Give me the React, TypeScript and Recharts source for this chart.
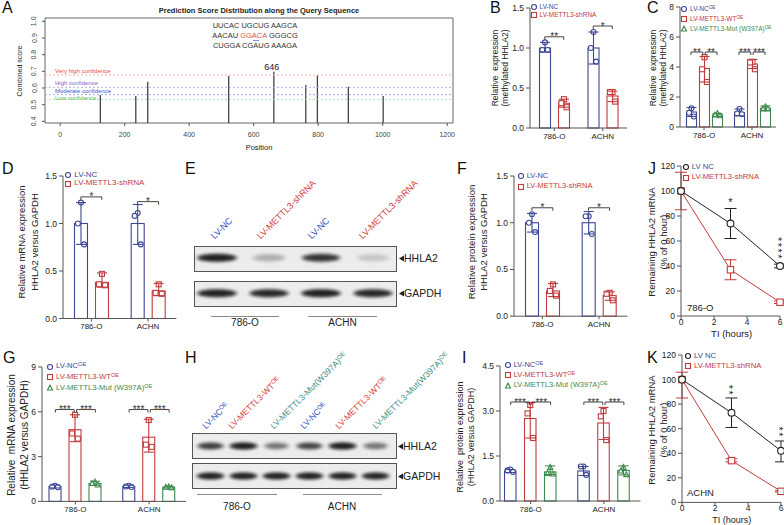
import React from 'react'
import {
  Bar,
  ComposedChart,
  ErrorBar,
  Line,
  ReferenceArea,
  ReferenceLine,
  Scatter,
  ScatterChart,
  XAxis,
  YAxis
} from 'recharts'

const FONT = '"Liberation Sans", Arial, Helvetica, sans-serif'
const INK = '#222'
const AXIS = '#555'
const NC_BLUE = '#3d4795'
const SH_RED = '#c23a3c'
const MUT_GREEN = '#3e8a4e'
const LANE_BLUE = '#2f4dbf'
const LANE_RED = '#d23a36'
const LANE_TEAL = '#3a8c84'

// A: SRAMP prediction along HHLA2
const sitePositions = [125, 235, 272, 523, 663, 762, 798, 894, 1002]
const siteScores = [0.558, 0.552, 0.638, 0.672, 0.698, 0.618, 0.676, 0.608, 0.552]
const confidenceNames = ['Very high confidence', 'High confidence', 'Moderate confidence', 'Low confidence']
const confidenceCutoffs = [0.678, 0.604, 0.56, 0.532]
const positionTicks = [0, 200, 400, 600, 800, 1000, 1200]
const scoreTicks = [0.4, 0.5, 0.6, 0.7, 0.8, 0.9, 1.0]
const motifRows = [
  ['UUCAC', 'UGCUG', 'AAGCA'],
  ['AACAU', 'GGACA', 'GGGCG'],
  ['CUGGA', 'CGAUG', 'AAAGA']
]

const cellLines = ['786-O', 'ACHN']

// B: methylated HHLA2, [series][cell]
const bMean = [[1.0, 1.0], [0.31, 0.4]]
const bLow = [[0.95, 0.8], [0.26, 0.33]]
const bHigh = [[1.07, 1.2], [0.36, 0.46]]
const bDots = [[[1.07, 0.975, 0.975], [1.2, 1.0, 0.83]], [[0.36, 0.31, 0.26], [0.45, 0.45, 0.33]]]
const bStars = [['**'], ['*']]
const bStarsAt = [1.14, 1.275]

// C
const cMean = [[1.0, 0.95], [3.9, 4.2], [0.8, 1.25]]
const cLow = [[0.7, 0.75], [3.0, 3.9], [0.7, 1.1]]
const cHigh = [[1.3, 1.2], [4.7, 4.5], [0.9, 1.4]]
const cDots = [
  [[1.25, 0.95, 0.7], [1.2, 0.9, 0.85]],
  [[4.65, 3.85, 3.0], [4.35, 4.3, 3.85]],
  [[0.9, 0.8, 0.75], [1.35, 1.2, 1.2]]
]
const cStars = [['**', '**'], ['***', '***']]
const cStarsAt = [5.0, 5.0]

// D
const dMean = [[1.0, 1.0], [0.38, 0.29]]
const dLow = [[0.78, 0.78], [0.33, 0.24]]
const dHigh = [[1.22, 1.2], [0.48, 0.37]]
const dDots = [[[1.22, 1.0, 0.78], [1.11, 1.08, 0.78]], [[0.47, 0.36, 0.35], [0.36, 0.27, 0.26]]]
const dStars = [['*'], ['*']]
const dStarsAt = [1.28, 1.23]

// F
const fMean = [[1.0, 1.0], [0.27, 0.22]]
const fLow = [[0.9, 0.88], [0.21, 0.17]]
const fHigh = [[1.1, 1.12], [0.35, 0.26]]
const fDots = [[[1.09, 1.0, 0.9], [1.07, 1.07, 0.88]], [[0.34, 0.27, 0.22], [0.25, 0.24, 0.17]]]
const fStars = [['*'], ['*']]
const fStarsAt = [1.16, 1.16]

// G
const gMean = [[1.0, 1.0], [4.8, 4.3], [1.2, 0.95]]
const gLow = [[0.9, 0.93], [4.0, 3.3], [1.08, 0.9]]
const gHigh = [[1.1, 1.08], [5.8, 5.5], [1.35, 1.0]]
const gDots = [
  [[1.05, 0.98, 0.95], [1.05, 1.0, 0.96]],
  [[5.8, 4.55, 4.2], [5.45, 3.8, 3.65]],
  [[1.3, 1.2, 1.1], [0.98, 0.95, 0.92]]
]
const gStars = [['***', '***'], ['***', '***']]
const gStarsAt = [6.15, 6.15]

// I
const iMean = [[1.0, 1.0], [2.75, 2.6], [0.97, 1.02]]
const iLow = [[0.95, 0.85], [2.1, 2.05], [0.88, 0.87]]
const iHigh = [[1.05, 1.15], [3.28, 3.12], [1.17, 1.17]]
const iDots = [
  [[1.05, 1.02, 0.97], [1.15, 1.15, 0.87]],
  [[3.2, 2.92, 2.1], [3.0, 2.82, 2.03]],
  [[1.12, 0.92, 0.9], [1.12, 1.0, 0.88]]
]
const iStars = [['***', '***'], ['***', '***']]
const iStarsAt = [3.3, 3.3]

// J / K: mRNA decay
const decayHours = [0, 3, 6]
const hourTicks = [0, 2, 4, 6]
const remainTicks = [0, 20, 40, 60, 80, 100, 120]
const jNc = [100, 74, 40]
const jNcLow = [100, 62, 38.5]
const jNcHigh = [100, 86, 41.5]
const jSh = [100, 37, 11]
const jShLow = [85, 29, 10]
const jShHigh = [115, 45, 12]
const jStars = ['', '*', '****']
const jStarsAt = [0, 91, 54]
const kNc = [100, 73, 42]
const kNcLow = [100, 61, 33]
const kNcHigh = [100, 85, 50]
const kSh = [100, 34, 9]
const kShLow = [85, 33, 8.5]
const kShHigh = [106, 35.5, 9.5]
const kStars = ['', '**', '**']
const kStarsAt = [0, 91, 57]

// E / H: western blot band densities (0..1)
const eLanes = ['LV-NC', 'LV-METTL3-shRNA', 'LV-NC', 'LV-METTL3-shRNA']
const eHhla2 = [0.95, 0.2, 0.8, 0.12]
const eGapdh = [0.92, 0.88, 0.95, 0.88]
const hLanes = ['LV-NC', 'LV-METTL3-WT', 'LV-METTL3-Mut(W397A)', 'LV-NC', 'LV-METTL3-WT', 'LV-METTL3-Mut(W397A)']
const hHhla2 = [0.75, 0.98, 0.45, 0.7, 0.98, 0.45]
const hGapdh = [0.95, 0.95, 0.95, 0.95, 0.95, 0.92]

type Kind = 'circle' | 'square' | 'triangle'

function Marker({ kind, cx, cy, r, color }: { kind: Kind; cx: number; cy: number; r: number; color: string }) {
  if (kind === 'square')
    return <rect x={cx - r} y={cy - r} width={2 * r} height={2 * r} fill="#fff" stroke={color} strokeWidth={1.1} />
  if (kind === 'triangle')
    return (
      <polygon
        points={`${cx},${cy - r * 1.15} ${cx - r},${cy + r * 0.8} ${cx + r},${cy + r * 0.8}`}
        fill="#fff"
        stroke={color}
        strokeWidth={1.1}
      />
    )
  return <circle cx={cx} cy={cy} r={r} fill="#fff" stroke={color} strokeWidth={1.1} />
}

const OE = <sup style={{ fontSize: '0.72em', lineHeight: 0, verticalAlign: '0.45em' }}>OE</sup>

function PanelLabel({ ch, x, y }: { ch: string; x: number; y: number }) {
  return <div style={{ position: 'absolute', left: x, top: y, fontSize: 16, lineHeight: '16px', color: '#111' }}>{ch}</div>
}

function Txt({ x, y, size, color = INK, anchor = 'middle', bold = false, children }: any) {
  return (
    <div
      style={{
        position: 'absolute',
        left: x,
        top: y,
        transform: `translate(${anchor === 'middle' ? '-50%' : '0'}, -50%)`,
        fontSize: size,
        lineHeight: `${size + 2}px`,
        color,
        fontWeight: bold ? 'bold' : 'normal',
        whiteSpace: 'nowrap'
      }}
    >
      {children}
    </div>
  )
}

function VLabel({ x, y, lines, size, gap }: { x: number; y: number; lines: string[]; size: number; gap: number }) {
  return (
    <div
      style={{
        position: 'absolute',
        left: x,
        top: y,
        transform: 'translate(-50%, -50%) rotate(-90deg)',
        fontSize: size,
        lineHeight: `${gap}px`,
        textAlign: 'center',
        whiteSpace: 'pre',
        color: INK
      }}
    >
      {lines.map((l, i) => (
        <div key={i}>{l}</div>
      ))}
    </div>
  )
}

function Legend({ x, y, size, row, items }: { x: number; y: number; size: number; row: number; items: { kind: Kind; color: string; text: React.ReactNode; mark?: string }[] }) {
  return (
    <div style={{ position: 'absolute', left: x - 4, top: y - row / 2, fontSize: size, lineHeight: `${row}px`, whiteSpace: 'nowrap' }}>
      {items.map((it, i) => (
        <div key={i} style={{ display: 'flex', alignItems: 'center', height: row, color: it.color }}>
          <svg width={8} height={8} style={{ marginRight: 2, flex: 'none' }}>
            <Marker kind={it.kind} cx={4} cy={4} r={2.5} color={it.mark ?? it.color} />
          </svg>
          <span>{it.text}</span>
        </div>
      ))}
    </div>
  )
}

const JITTER = [0, -0.22, 0.22]

function BarWithDots(props: any) {
  const { x, y, width, height, payload, k, color, kind } = props
  const v = payload[`v${k}`]
  const dots: number[] = payload[`p${k}`]
  const base = y + height
  const toY = (val: number) => base - (val / v) * height
  return (
    <g>
      <rect x={x + 0.5} y={y} width={width - 1} height={height} fill="#fff" stroke={color} strokeWidth={1.1} />
      {dots.map((d, i) => (
        <Marker key={i} kind={kind} cx={x + width / 2 + JITTER[i] * width} cy={toY(d)} r={2.5} color={color} />
      ))}
    </g>
  )
}

function StarBracket(props: any) {
  const { cx, cy, payload, n, step } = props
  if (cx == null || cy == null) return null
  const centers = Array.from({ length: n }, (_, i) => cx + (i - (n - 1) / 2) * step)
  const marks: string[] = payload.stars
  return (
    <g>
      {marks.map((m, i) => {
        const a = centers[i] + (i > 0 ? 1.2 : 0)
        const b = centers[i + 1] - (i + 1 < n - 1 ? 1.2 : 0)
        return (
          <g key={i}>
            <path d={`M${a},${cy + 3}V${cy}H${b}V${cy + 3}`} fill="none" stroke="#333" strokeWidth={0.9} />
            <text x={(a + b) / 2} y={cy + 3.5} textAnchor="middle" fontSize={10} fill="#333" fontFamily={FONT}>
              {m}
            </text>
          </g>
        )
      })}
    </g>
  )
}

type SeriesStyle = { color: string; kind: Kind }
const TWO: SeriesStyle[] = [
  { color: NC_BLUE, kind: 'circle' },
  { color: SH_RED, kind: 'square' }
]
const THREE: SeriesStyle[] = [
  { color: NC_BLUE, kind: 'circle' },
  { color: SH_RED, kind: 'square' },
  { color: MUT_GREEN, kind: 'triangle' }
]

function BarPanel(p: {
  axisX: number
  yTop: number
  plotW: number
  plotH: number
  yMax: number
  yTicks: number[]
  digits: number
  barSize: number
  barGap: number
  padL?: number
  styles: SeriesStyle[]
  mean: number[][]
  low: number[][]
  high: number[][]
  dots: number[][][]
  stars: string[][]
  starsAt: number[]
}) {
  const YW = 30
  const MT = 10
  const MR = 6
  const XH = 22
  const rows = cellLines.map((cell, c) => {
    const r: any = { cell, stars: p.stars[c], starsAt: p.starsAt[c] }
    p.mean.forEach((m, k) => {
      r[`v${k}`] = m[c]
      r[`e${k}`] = [m[c] - p.low[k][c], p.high[k][c] - m[c]]
      r[`p${k}`] = p.dots[k][c]
    })
    return r
  })
  const step = p.barSize + p.barGap
  return (
    <div style={{ position: 'absolute', left: p.axisX - YW, top: p.yTop - MT }}>
      <ComposedChart
        width={YW + p.plotW + MR}
        height={MT + p.plotH + XH}
        data={rows}
        margin={{ top: MT, right: MR, bottom: 0, left: 0 }}
        barSize={p.barSize}
        barGap={p.barGap}
      >
        <XAxis
          dataKey="cell"
          height={XH}
          interval={0}
          padding={{ left: p.padL ?? 0, right: 0 }}
          tick={{ fontSize: 8, fill: INK, fontFamily: FONT }}
          tickSize={3}
          axisLine={{ stroke: AXIS }}
          tickLine={{ stroke: AXIS }}
        />
        <YAxis
          width={YW}
          domain={[0, p.yMax]}
          ticks={p.yTicks}
          interval={0}
          tickFormatter={(v: number) => v.toFixed(p.digits)}
          tick={{ fontSize: 8.5, fill: INK, fontFamily: FONT }}
          tickSize={4}
          axisLine={{ stroke: AXIS }}
          tickLine={{ stroke: AXIS }}
        />
        {p.styles.map((s, k) => (
          <Bar
            key={k}
            dataKey={`v${k}`}
            isAnimationActive={false}
            shape={(bp: any) => <BarWithDots {...bp} k={k} color={s.color} kind={s.kind} />}
          >
            <ErrorBar dataKey={`e${k}`} width={5} stroke={s.color} strokeWidth={1.1} direction="y" />
          </Bar>
        ))}
        <Scatter
          dataKey="starsAt"
          isAnimationActive={false}
          shape={(sp: any) => <StarBracket {...sp} n={p.styles.length} step={step} />}
        />
      </ComposedChart>
    </div>
  )
}

function StarText(props: any) {
  const { cx, cy, payload } = props
  const s: string = payload.stars
  if (s.length === 1)
    return (
      <text x={cx} y={cy + 4} textAnchor="middle" fontSize={11} fill={INK} fontFamily={FONT}>
        {s}
      </text>
    )
  const fs = 11
  const x0 = cx - fs * 0.57
  return (
    <text
      x={x0}
      y={cy}
      textAnchor="middle"
      fontSize={fs}
      letterSpacing={1.5}
      fill={INK}
      fontFamily={FONT}
      transform={`rotate(90 ${x0} ${cy})`}
    >
      {s}
    </text>
  )
}

const HourTick = (tp: any) => (
  <text x={tp.x} y={tp.y + 6} textAnchor="middle" fontSize={8.5} fill={INK} fontFamily={FONT}>
    {tp.payload.value}
  </text>
)

function DecayPanel(p: {
  axisX: number
  yTop: number
  plotW: number
  plotH: number
  nc: number[]
  ncLow: number[]
  ncHigh: number[]
  sh: number[]
  shLow: number[]
  shHigh: number[]
  stars: string[]
  starsAt: number[]
}) {
  const YW = 28
  const MT = 6
  const MR = 8
  const XH = 14
  const err = (m: number, lo: number, hi: number) => (hi - lo > 0 ? [m - lo, hi - m] : null)
  const rows = decayHours.map((t, i) => ({
    t,
    nc: p.nc[i],
    ncErr: err(p.nc[i], p.ncLow[i], p.ncHigh[i]),
    sh: p.sh[i],
    shErr: err(p.sh[i], p.shLow[i], p.shHigh[i])
  }))
  const starRows = decayHours
    .map((t, i) => ({ t, at: p.starsAt[i], stars: p.stars[i] }))
    .filter((r) => r.stars)
  return (
    <div style={{ position: 'absolute', left: p.axisX - YW, top: p.yTop - MT }}>
      <ComposedChart
        width={YW + p.plotW + MR}
        height={MT + p.plotH + XH}
        data={rows}
        margin={{ top: MT, right: MR, bottom: 0, left: 0 }}
      >
        <XAxis
          type="number"
          dataKey="t"
          domain={[0, 6]}
          ticks={hourTicks}
          interval={0}
          height={XH}
          tick={HourTick}
          tickSize={3}
          tickMargin={0}
          axisLine={{ stroke: AXIS }}
          tickLine={{ stroke: AXIS }}
        />
        <YAxis
          type="number"
          width={YW}
          domain={[0, 120]}
          ticks={remainTicks}
          interval={0}
          tick={{ fontSize: 8.5, fill: INK, fontFamily: FONT }}
          tickSize={4}
          axisLine={{ stroke: AXIS }}
          tickLine={{ stroke: AXIS }}
        />
        <Line
          dataKey="sh"
          stroke={SH_RED}
          strokeWidth={1}
          isAnimationActive={false}
          dot={(dp: any) => <Marker key={`s${dp.index}`} kind="square" cx={dp.cx} cy={dp.cy} r={3.2} color={SH_RED} />}
        >
          <ErrorBar dataKey="shErr" width={6} stroke={SH_RED} strokeWidth={1} direction="y" />
        </Line>
        <Line
          dataKey="nc"
          stroke="#222"
          strokeWidth={1}
          isAnimationActive={false}
          dot={(dp: any) => <Marker key={`n${dp.index}`} kind="circle" cx={dp.cx} cy={dp.cy} r={3.4} color="#222" />}
        >
          <ErrorBar dataKey="ncErr" width={6} stroke="#222" strokeWidth={1} direction="y" />
        </Line>
        <Scatter data={starRows} dataKey="at" isAnimationActive={false} shape={StarText} />
      </ComposedChart>
    </div>
  )
}

function BandShape(props: any) {
  const { cx, cy, payload, w, h, id } = props
  const k = payload.level
  const bw = w * (0.8 + 0.2 * k)
  return (
    <g>
      <defs>
        <filter id={id} x="-30%" y="-150%" width="160%" height="400%">
          <feGaussianBlur stdDeviation={1.4} />
        </filter>
      </defs>
      <ellipse cx={cx} cy={cy} rx={bw / 2} ry={h / 2} fill="#111" opacity={k * 0.55} filter={`url(#${id})`} />
      <ellipse cx={cx} cy={cy} rx={bw / 2 - 3} ry={h / 2 - 1.5} fill="#000" opacity={k * 0.8} filter={`url(#${id})`} />
    </g>
  )
}

function Blot(p: { left: number; top: number; width: number; height: number; upper: number[]; lower: number[]; bandW: number; bandH: number; id: string }) {
  const data = [
    ...p.upper.map((level, i) => ({ lane: i + 1, row: 1, level })),
    ...p.lower.map((level, i) => ({ lane: i + 1, row: 0, level }))
  ]
  return (
    <div style={{ position: 'absolute', left: p.left, top: p.top }}>
      <ScatterChart width={p.width} height={p.height} margin={{ top: 0, right: 0, bottom: 0, left: 0 }}>
        <XAxis type="number" dataKey="lane" domain={[0.5, p.upper.length + 0.5]} hide />
        <YAxis type="number" dataKey="row" domain={[-0.5, 1.5]} hide />
        <Scatter
          data={data}
          isAnimationActive={false}
          shape={(sp: any) => <BandShape {...sp} w={p.bandW} h={p.bandH} id={p.id} />}
        />
      </ScatterChart>
    </div>
  )
}

function Box({ x, y, w, h }: { x: number; y: number; w: number; h: number }) {
  return (
    <div
      style={{
        position: 'absolute',
        left: x,
        top: y,
        width: w,
        height: h,
        boxSizing: 'border-box',
        border: '1px solid #555',
        background: '#ececec'
      }}
    />
  )
}

function Rule({ x1, x2, y }: { x1: number; x2: number; y: number }) {
  return <div style={{ position: 'absolute', left: x1, top: y, width: x2 - x1, height: 1, background: '#8a8a8a' }} />
}

function BandTag({ x, y, text }: { x: number; y: number; text: string }) {
  return (
    <div style={{ position: 'absolute', left: x, top: y - 7, height: 14, display: 'flex', alignItems: 'center', fontSize: 10.5, color: INK }}>
      <svg width={5} height={7} style={{ flex: 'none' }}>
        <polygon points="5,0.5 0,3.5 5,6.5" fill={INK} />
      </svg>
      <span>{text}</span>
    </div>
  )
}

function LaneLabel({ x, y, size, color, children }: any) {
  return (
    <div
      style={{
        position: 'absolute',
        left: x,
        top: y - size,
        height: size,
        lineHeight: `${size}px`,
        fontSize: size,
        color,
        whiteSpace: 'nowrap',
        transform: 'rotate(-45deg)',
        transformOrigin: '0 100%'
      }}
    >
      {children}
    </div>
  )
}

const ScoreTick = (tp: any) => {
  const x = tp.x - 5.5
  return (
    <text x={x} y={tp.y} transform={`rotate(-90 ${x} ${tp.y})`} textAnchor="middle" fontSize={7} fill="#444" fontFamily={FONT}>
      {Number(tp.payload.value).toFixed(1)}
    </text>
  )
}

const PosTick = (tp: any) => (
  <text x={tp.x} y={tp.y + 10.5} textAnchor="middle" fontSize={7} fill="#444" fontFamily={FONT}>
    {tp.payload.value}
  </text>
)

const CONF_TEXT = ['#e8473f', '#8a5fc8', '#3d55c8', '#5cb85c']
const CONF_LINE = ['#f2a29c', '#b9a0e0', '#9aa6e0', '#a6dba6']
const CONF_DY = [-1.8, -2, -2, 1]

function SrampPanel() {
  const rows = sitePositions.map((pos, i) => ({ pos, score: siteScores[i] }))
  return (
    <div style={{ position: 'absolute', left: 0, top: 0 }}>
      <ComposedChart
        width={470}
        height={150}
        data={rows}
        margin={{ top: 18, right: 17, bottom: 0, left: 20 }}
        barSize={1.3}
      >
        <XAxis
          type="number"
          dataKey="pos"
          domain={[-47, 1218]}
          ticks={positionTicks}
          interval={0}
          height={27}
          tickSize={3}
          tickMargin={0}
          axisLine={false}
          tickLine={{ stroke: AXIS }}
          tick={PosTick}
        />
        <YAxis
          type="number"
          domain={[0.39, 1.02]}
          ticks={scoreTicks}
          interval={0}
          width={25}
          tickSize={3}
          tickMargin={0}
          axisLine={false}
          tickLine={{ stroke: AXIS }}
          tick={ScoreTick}
        />
        <ReferenceArea x1={-47} x2={1218} y1={0.39} y2={1.02} fill="none" stroke="#555" strokeWidth={0.9} ifOverflow="visible" />
        {confidenceCutoffs.map((c, i) => (
          <ReferenceLine
            key={i}
            y={c}
            stroke={CONF_LINE[i]}
            strokeDasharray="2 2"
            strokeWidth={0.9}
            label={(lp: any) => (
              <text
                x={lp.viewBox.x + 10}
                y={lp.viewBox.y + CONF_DY[i]}
                fontSize={6}
                fill={CONF_TEXT[i]}
                fontFamily={FONT}
              >
                {confidenceNames[i]}
              </text>
            )}
          />
        ))}
        <Bar dataKey="score" fill="#444" isAnimationActive={false} />
      </ComposedChart>
    </div>
  )
}

export default function App() {
  return (
    <div
      style={{
        position: 'absolute',
        left: 0,
        top: 0,
        width: 784,
        height: 525,
        background: '#fff',
        overflow: 'hidden',
        fontFamily: FONT,
        color: INK
      }}
    >
      {/* A */}
      <SrampPanel />
      <Txt x={259} y={11} size={7.5} bold>
        Prediction Score Distribution along the Query Sequence
      </Txt>
      {motifRows.map((r, i) => (
        <Txt key={i} x={255} y={26 + i * 9.9} size={7.5} color="#333">
          {r[0]} <span style={{ color: i === 1 ? '#d9534f' : '#333' }}>{r[1]}</span> {r[2]}
        </Txt>
      ))}
      <div style={{ position: 'absolute', left: 253, top: 40, width: 6, height: 1, background: '#7d8fd6' }} />
      <Txt x={271.7} y={66.7} size={9}>
        646
      </Txt>
      <VLabel x={19.5} y={71} lines={['Combined score']} size={7} gap={8} />
      <Txt x={259} y={148} size={7.5}>
        Position
      </Txt>

      {/* B */}
      <BarPanel
        axisX={530}
        yTop={8}
        plotW={97}
        plotH={120}
        yMax={1.5}
        yTicks={[0, 0.5, 1.0, 1.5]}
        digits={1}
        barSize={12}
        barGap={7}
        styles={TWO}
        mean={bMean}
        low={bLow}
        high={bHigh}
        dots={bDots}
        stars={bStars}
        starsAt={bStarsAt}
      />
      <VLabel x={500} y={68} lines={['Relative  expression', '(methylated HHLA2)']} size={8.5} gap={10} />
      <Legend
        x={533.5}
        y={6.7}
        size={6.5}
        row={8.3}
        items={[
          { kind: 'circle', color: NC_BLUE, text: 'LV-NC' },
          { kind: 'square', color: SH_RED, text: 'LV-METTL3-shRNA' }
        ]}
      />

      {/* C */}
      <BarPanel
        axisX={680}
        yTop={7}
        plotW={96}
        plotH={120}
        yMax={8}
        yTicks={[0, 2, 4, 6, 8]}
        digits={0}
        barSize={11}
        barGap={2}
        styles={THREE}
        mean={cMean}
        low={cLow}
        high={cHigh}
        dots={cDots}
        stars={cStars}
        starsAt={cStarsAt}
      />
      <VLabel x={658.3} y={68} lines={['Relative  expression', '(methylated HHLA2)']} size={8.5} gap={10} />
      <Legend
        x={684}
        y={9}
        size={6.5}
        row={10}
        items={[
          { kind: 'circle', color: NC_BLUE, text: <>LV-NC{OE}</> },
          { kind: 'square', color: SH_RED, text: <>LV-METTL3-WT{OE}</> },
          { kind: 'triangle', color: MUT_GREEN, text: <>LV-METTL3-Mut (W397A){OE}</> }
        ]}
      />

      {/* D */}
      <BarPanel
        axisX={62.5}
        yTop={176}
        plotW={113.4}
        plotH={142.5}
        yMax={1.5}
        yTicks={[0, 0.5, 1.0, 1.5]}
        digits={1}
        barSize={14}
        barGap={7}
        styles={TWO}
        mean={dMean}
        low={dLow}
        high={dHigh}
        dots={dDots}
        stars={dStars}
        starsAt={dStarsAt}
      />
      <VLabel x={28.3} y={242} lines={['Relative mRNA expression', 'HHLA2 versus GAPDH']} size={9.5} gap={13} />
      <Legend
        x={68.3}
        y={175}
        size={8}
        row={8.5}
        items={[
          { kind: 'circle', color: NC_BLUE, text: 'LV-NC' },
          { kind: 'square', color: SH_RED, text: 'LV-METTL3-shRNA' }
        ]}
      />

      {/* E */}
      <Box x={194.3} y={245.7} w={202.4} h={26.6} />
      <Box x={194.3} y={280.7} w={202.4} h={26} />
      <Blot left={191} top={240.25} width={208} height={71} upper={eHhla2} lower={eGapdh} bandW={42} bandH={9} id="blurE" />
      {eLanes.map((l, i) => (
        <LaneLabel key={i} x={[216, 262, 313, 364][i]} y={241} size={9} color={i % 2 === 0 ? LANE_BLUE : LANE_RED}>
          {l}
        </LaneLabel>
      ))}
      <BandTag x={399} y={258} text="HHLA2" />
      <BandTag x={399} y={293} text="GAPDH" />
      <Rule x1={210.7} x2={279.3} y={315.5} />
      <Rule x1={308.3} x2={376.7} y={315.5} />
      <Txt x={245} y={323.3} size={10}>
        786-O
      </Txt>
      <Txt x={342.5} y={323.3} size={10}>
        ACHN
      </Txt>

      {/* F */}
      <BarPanel
        axisX={513.5}
        yTop={175.5}
        plotW={113.4}
        plotH={140.2}
        yMax={1.5}
        yTicks={[0, 0.5, 1.0, 1.5]}
        digits={1}
        barSize={14}
        barGap={7}
        styles={TWO}
        mean={fMean}
        low={fLow}
        high={fHigh}
        dots={fDots}
        stars={fStars}
        starsAt={fStarsAt}
      />
      <VLabel x={477.5} y={242} lines={['Relative protein expression', 'HHLA2 versus GAPDH']} size={9.5} gap={11.6} />
      <Legend
        x={520.7}
        y={176}
        size={7.5}
        row={10.5}
        items={[
          { kind: 'circle', color: NC_BLUE, text: 'LV-NC' },
          { kind: 'square', color: SH_RED, text: 'LV-METTL3-shRNA' }
        ]}
      />

      {/* J */}
      <DecayPanel
        axisX={681}
        yTop={165.7}
        plotW={99}
        plotH={150}
        nc={jNc}
        ncLow={jNcLow}
        ncHigh={jNcHigh}
        sh={jSh}
        shLow={jShLow}
        shHigh={jShHigh}
        stars={jStars}
        starsAt={jStarsAt}
      />
      <VLabel x={657.5} y={242} lines={['Remaining HHLA2 mRNA', '(% of 0 hour)']} size={9.5} gap={11.6} />
      <Legend
        x={685.7}
        y={167.3}
        size={7.7}
        row={10.4}
        items={[
          { kind: 'circle', color: NC_BLUE, mark: '#222', text: 'LV NC' },
          { kind: 'square', color: SH_RED, text: 'LV-METTL3-shRNA' }
        ]}
      />
      <Txt x={687} y={308.3} size={9.5} anchor="start">
        786-O
      </Txt>
      <Txt x={731.7} y={334} size={9.5}>
        TI (hours)
      </Txt>

      {/* G */}
      <BarPanel
        axisX={41.7}
        yTop={367.3}
        plotW={144}
        plotH={134.4}
        yMax={9}
        yTicks={[0, 3, 6, 9]}
        digits={0}
        barSize={13}
        barGap={7}
        padL={-3.5}
        styles={THREE}
        mean={gMean}
        low={gLow}
        high={gHigh}
        dots={gDots}
        stars={gStars}
        starsAt={gStarsAt}
      />
      <VLabel x={18.3} y={435} lines={['Relative  mRNA expression', '(HHLA2 versus GAPDH)']} size={10} gap={13.3} />
      <Legend
        x={50}
        y={366.7}
        size={7.7}
        row={10.8}
        items={[
          { kind: 'circle', color: NC_BLUE, text: <>LV-NC{OE}</> },
          { kind: 'square', color: SH_RED, text: <>LV-METTL3-WT{OE}</> },
          { kind: 'triangle', color: MUT_GREEN, text: <>LV-METTL3-Mut (W397A){OE}</> }
        ]}
      />

      {/* H */}
      <Box x={191.7} y={432.5} w={205} h={26} />
      <Box x={191.7} y={463} w={205} h={25.5} />
      <Blot left={193.5} top={431} width={198} height={60} upper={hHhla2} lower={hGapdh} bandW={30} bandH={8} id="blurH" />
      {hLanes.map((l, i) => (
        <LaneLabel
          key={i}
          x={[206.7, 233.3, 275, 305, 340, 376.7][i]}
          y={430}
          size={8.5}
          color={[LANE_BLUE, LANE_RED, LANE_TEAL][i % 3]}
        >
          {l}
          {OE}
        </LaneLabel>
      ))}
      <BandTag x={398} y={446} text="HHLA2" />
      <BandTag x={398} y={476} text="GAPDH" />
      <Rule x1={196.7} x2={276.7} y={494} />
      <Rule x1={302.7} x2={381.7} y={494} />
      <Txt x={237} y={506.5} size={10}>
        786-O
      </Txt>
      <Txt x={342} y={506.5} size={10}>
        ACHN
      </Txt>

      {/* I */}
      <BarPanel
        axisX={500}
        yTop={366}
        plotW={140.5}
        plotH={135}
        yMax={4.5}
        yTicks={[0, 1.5, 3.0, 4.5]}
        digits={1}
        barSize={12.5}
        barGap={7.5}
        padL={-6}
        styles={THREE}
        mean={iMean}
        low={iLow}
        high={iHigh}
        dots={iDots}
        stars={iStars}
        starsAt={iStarsAt}
      />
      <VLabel x={465} y={437} lines={['Relative  protein expression', '(HHLA2 versus GAPDH)']} size={9} gap={10.5} />
      <Legend
        x={507.7}
        y={365}
        size={7.5}
        row={10.3}
        items={[
          { kind: 'circle', color: NC_BLUE, text: <>LV-NC{OE}</> },
          { kind: 'square', color: SH_RED, text: <>LV-METTL3-WT{OE}</> },
          { kind: 'triangle', color: MUT_GREEN, text: <>LV-METTL3-Mut (W397A){OE}</> }
        ]}
      />

      {/* K */}
      <DecayPanel
        axisX={681.7}
        yTop={355.3}
        plotW={99}
        plotH={147.4}
        nc={kNc}
        ncLow={kNcLow}
        ncHigh={kNcHigh}
        sh={kSh}
        shLow={kShLow}
        shHigh={kShHigh}
        stars={kStars}
        starsAt={kStarsAt}
      />
      <VLabel x={657.5} y={430} lines={['Remaining HHLA2 mRNA', '(% of 0 hour)']} size={9.5} gap={11.6} />
      <Legend
        x={688}
        y={356}
        size={7.7}
        row={10.4}
        items={[
          { kind: 'circle', color: NC_BLUE, mark: '#222', text: 'LV NC' },
          { kind: 'square', color: SH_RED, text: 'LV-METTL3-shRNA' }
        ]}
      />
      <Txt x={687} y={493.3} size={9.5} anchor="start">
        ACHN
      </Txt>
      <Txt x={731.7} y={519.5} size={9}>
        TI (hours)
      </Txt>

      <PanelLabel ch="A" x={2} y={0} />
      <PanelLabel ch="B" x={490} y={0} />
      <PanelLabel ch="C" x={647} y={0} />
      <PanelLabel ch="D" x={2} y={161} />
      <PanelLabel ch="E" x={185} y={161} />
      <PanelLabel ch="F" x={457} y={161} />
      <PanelLabel ch="J" x={648} y={161} />
      <PanelLabel ch="G" x={3} y={350} />
      <PanelLabel ch="H" x={185} y={350} />
      <PanelLabel ch="I" x={462} y={350} />
      <PanelLabel ch="K" x={647} y={350} />
    </div>
  )
}
